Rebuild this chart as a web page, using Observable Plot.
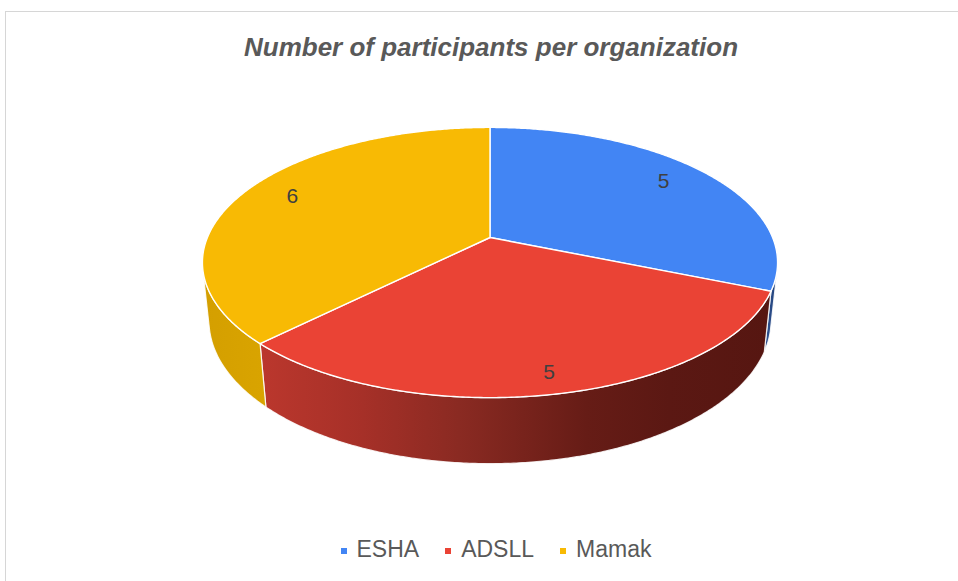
<!DOCTYPE html>
<html>
<head>
<meta charset="utf-8">
<script src="https://cdn.jsdelivr.net/npm/d3@7"></script>
<script src="https://cdn.jsdelivr.net/npm/@observablehq/plot@0.6"></script>
<style>
  html, body { margin: 0; padding: 0; background: #ffffff; }
  body { font-family: "Liberation Sans", Arial, sans-serif; }
  #wrap { position: relative; width: 958px; height: 581px; overflow: hidden; background: #fff; }
  #frame { position: absolute; left: 5px; top: 11px; width: 1000px; height: 620px;
           border-left: 1px solid #d6d6d6; border-top: 1px solid #d6d6d6; }
  #chart { position: absolute; left: 0; top: 0; }
  #title { position: absolute; left: 0; top: 34px; width: 982px; text-align: center;
           font-size: 26px; line-height: 26px; font-weight: bold; font-style: italic; color: #595959; }
  #legend { position: absolute; left: 0; top: 538px; width: 992px; display: flex; justify-content: center;
            align-items: center; font-size: 23px; line-height: 23px; color: #595959; }
  .item { display: flex; align-items: center; margin: 0 13px; }
  .sw { width: 6px; height: 6px; margin-right: 10px; margin-top: 2px; }
</style>
</head>
<body>
<div id="wrap">
  <div id="frame"></div>
  <div id="chart"></div>
  <div id="title">Number of participants per organization</div>
  <div id="legend"></div>
</div>
<script>
// ---- data ----
const organizations = ["ESHA", "ADSLL", "Mamak"];
const participants = [5, 5, 6];

// ---- styles ----
const topColors = ["#4285F4", "#EA4335", "#F8BA04"];
const sideColors = ["url(#blueSide)", "url(#redSide)", "url(#yellowSide)"];

// ---- 3D view (perspective camera) ----
const phi = 27.5 * Math.PI / 180, Cp = Math.cos(phi), Sp = Math.sin(phi);
const Dist = 4.791, Thick = 0.235;
function project(X, Y, Z) {
  const u = Y * Cp - Z * Sp;
  const w = Dist - (Y * Sp + Z * Cp);
  return [Dist * X / w, Dist * u / w];
}
function onDisk(a, r, Y) { // a: clockwise from 12 o'clock
  return project(r * Math.sin(a), Y, -r * Math.cos(a));
}

const arcs = d3.pie().sort(null).value(d => d)(participants);
const step = Math.PI / 360;
function arcPts(a0, a1, Y) {
  const n = Math.max(2, Math.ceil((a1 - a0) / step));
  return d3.range(n + 1).map(i => onDisk(a0 + (a1 - a0) * i / n, 1, Y));
}

// visible part of outer wall
const zs = 1 / (Dist * Cp);
const lo = Math.acos(-zs), hi = 2 * Math.PI - Math.acos(-zs);

const walls = [], tops = [];
arcs.forEach((d, i) => {
  const a0 = Math.max(d.startAngle, lo), a1 = Math.min(d.endAngle, hi);
  if (a1 > a0) {
    const t = arcPts(a0, a1, 0), b = arcPts(a0, a1, -Thick).reverse();
    const pts = [...t, ...b, t[0]].map(([x, y]) => ({x, y}));
    walls.push({i, pts});
  }
  const c = project(0, 0, 0);
  const pts = [c, ...arcPts(d.startAngle, d.endAngle, 0), c].map(([x, y]) => ({x, y}));
  tops.push({i, pts});
});

const labels = arcs.map((d, i) => {
  const a = (d.startAngle + d.endAngle) / 2;
  const zmid = -Math.cos(a);
  const r = 0.8 + 0.1 * Math.max(0, zmid);
  const [x, y] = onDisk(a, r, 0);
  return {x, y, text: String(participants[i])};
});

// ---- scales ----
const W = 958, Hh = 581, unit = 282.6, cx = 489.5, cy = 237;
const xDomain = [-cx / unit, (W - cx) / unit];
const yDomain = [-(Hh - cy) / unit, cy / unit];

const marks = [];
walls.forEach(w => marks.push(Plot.line(w.pts, {x: "x", y: "y", fill: sideColors[w.i], stroke: "#ffffff", strokeWidth: 1.2, strokeOpacity: 0.85, strokeLinejoin: "round"})));
tops.forEach(t => marks.push(Plot.line(t.pts, {x: "x", y: "y", fill: topColors[t.i], stroke: "#ffffff", strokeWidth: 1.4, strokeLinejoin: "round"})));
marks.push(Plot.text(labels, {x: "x", y: "y", text: "text", fontSize: 21, fill: "#404040", dy: -3,
  fontFamily: "Liberation Sans, Arial, sans-serif", textAnchor: "middle", lineAnchor: "middle"}));

const svg = Plot.plot({
  width: W, height: Hh, margin: 0,
  x: {domain: xDomain, axis: null},
  y: {domain: yDomain, axis: null},
  style: {background: "transparent", overflow: "visible"},
  marks
});

const ns = "http://www.w3.org/2000/svg";
const defs = document.createElementNS(ns, "defs");
defs.innerHTML = `
<linearGradient id="redSide" x1="0" x2="1" y1="0" y2="0">
  <stop offset="0" stop-color="#BB372D"/>
  <stop offset="0.2" stop-color="#A63028"/>
  <stop offset="0.39" stop-color="#8A2A22"/>
  <stop offset="0.64" stop-color="#661C16"/>
  <stop offset="0.8" stop-color="#5B1813"/>
  <stop offset="1" stop-color="#561611"/>
</linearGradient>
<linearGradient id="yellowSide" x1="0" x2="1" y1="0" y2="0">
  <stop offset="0" stop-color="#D49F00"/>
  <stop offset="1" stop-color="#D9A400"/>
</linearGradient>
<linearGradient id="blueSide" x1="0" x2="1" y1="0" y2="0">
  <stop offset="0" stop-color="#2F5393"/>
  <stop offset="1" stop-color="#24437A"/>
</linearGradient>`;
svg.insertBefore(defs, svg.firstChild);
document.getElementById("chart").appendChild(svg);

// ---- legend ----
const legend = document.getElementById("legend");
organizations.forEach((name, i) => {
  const it = document.createElement("div"); it.className = "item";
  const sw = document.createElement("div"); sw.className = "sw"; sw.style.background = topColors[i];
  const tx = document.createElement("span"); tx.textContent = name;
  it.appendChild(sw); it.appendChild(tx); legend.appendChild(it);
});
</script>
</body>
</html>
